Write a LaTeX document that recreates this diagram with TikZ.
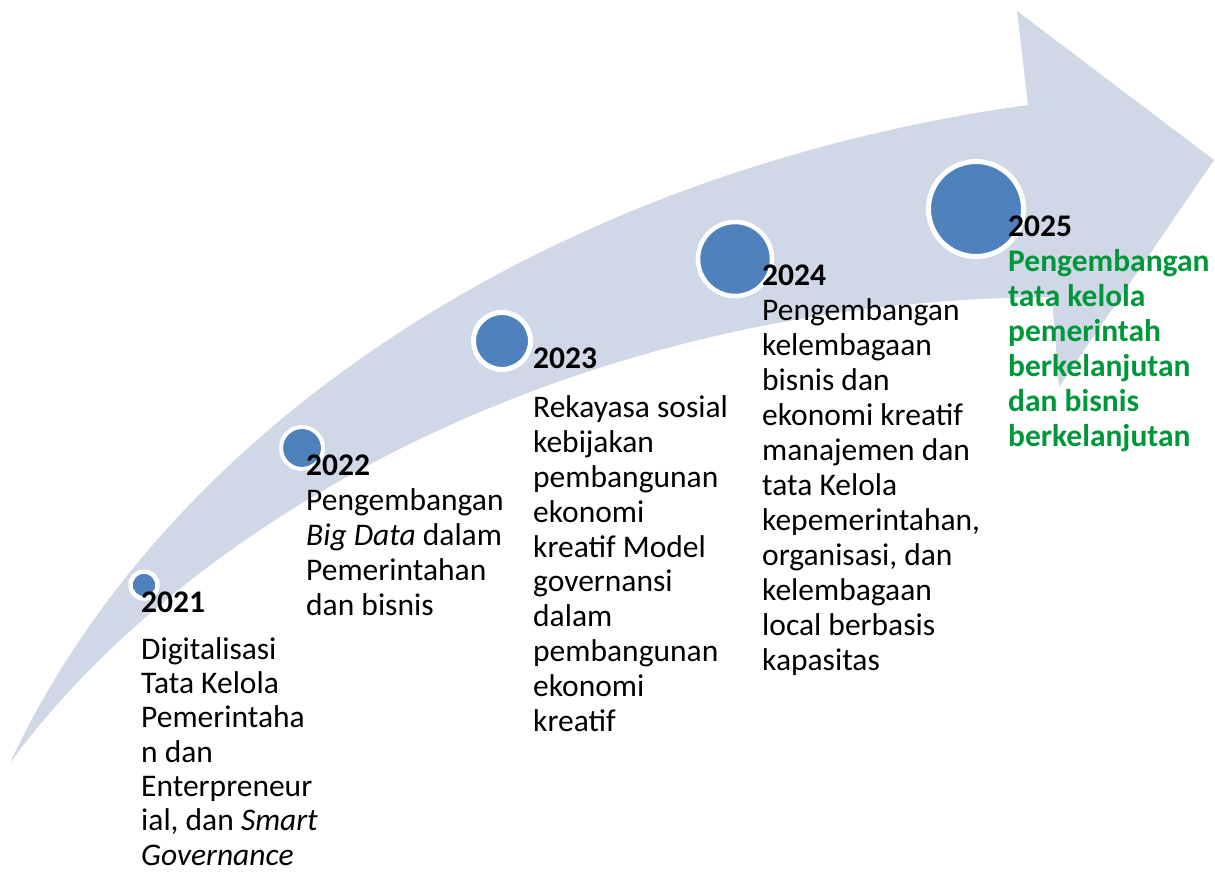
\documentclass[tikz,border=0pt]{standalone}
\usepackage{fontspec}
\setmainfont{Carlito}
\definecolor{arrowfill}{HTML}{D0D8E8}
\definecolor{dotblue}{HTML}{4F81BD}
\definecolor{txtgreen}{HTML}{00973A}
\definecolor{sqred}{HTML}{F3A0A0}
\newcommand\tlines[1]{\vtop{\halign{##\hfil\cr#1\crcr}}}
\newcommand\fnreg{\fontsize{31.5}{35}\selectfont}
\newcommand\fnbold{\fontsize{31.5}{35}\selectfont\bfseries}
\newlength\ulpre \newlength\ulwd
\newcommand\ulmark[5]{\settowidth\ulpre{#1#4}\settowidth\ulwd{#1#5}%
  \draw[sqline] ([xshift=\ulpre,yshift=-3.5pt]#2,#3) -- ++(\ulwd,0pt);}
\tikzset{
  txt/.style={anchor=base west, inner sep=0pt, font=\fnreg},
  dot/.style={circle, fill=dotblue, draw=white, inner sep=0pt},
  sqline/.style={draw=sqred, line width=0.9pt}
}
\begin{document}
\begin{tikzpicture}[x=1pt,y=-1pt]
\useasboundingbox (0,0) rectangle (1215,874);
% curved arrow
\fill[arrowfill] (10,763) .. controls (170,420) and (560,170) .. (1028,105)
  -- (1017,11) -- (1214,160) -- (1059,387) -- (1052,297)
  .. controls (560,300) and (180,530) .. (10,763) -- cycle;
% dots
\node[dot, minimum size=27pt, line width=4.5pt] (d2021) at (144,585) {};
\node[dot, minimum size=42pt, line width=4pt] (d2022) at (302,448) {};
\node[dot, minimum size=57pt, line width=5pt] (d2023) at (502,341) {};
\node[dot, minimum size=74pt, line width=4.5pt] (d2024) at (735,259) {};
\node[dot, minimum size=95pt, line width=5pt] (d2025) at (976,209) {};
% spell-check underlines (2024)
\ulmark{\fnreg}{762}{321}{}{Pengembangan}
\ulmark{\fnreg}{762}{426}{}{ekonomi}
\ulmark{\fnreg}{762}{426}{ekonomi }{kreatif}
\ulmark{\fnreg}{762}{461}{}{manajemen}
\ulmark{\fnreg}{762}{531}{}{kepemerintahan,}
\ulmark{\fnreg}{762}{566}{}{organisasi}
\ulmark{\fnreg}{762}{601}{}{kelembagaan}
\ulmark{\fnreg}{762}{636}{local }{berbasis}
\ulmark{\fnreg}{762}{671}{}{kapasitas}
% spell-check underlines (2025)
\ulmark{\fnbold}{1008}{272}{}{Pengembangan}
\ulmark{\fnbold}{1008}{307}{tata }{kelola}
\ulmark{\fnbold}{1008}{342}{}{pemerintah}
\ulmark{\fnbold}{1008}{377}{}{berkelanjutan}
\ulmark{\fnbold}{1008}{412}{dan }{bisnis}
\ulmark{\fnbold}{1008}{447}{}{berkelanjutan}
% texts
\node[txt, font=\fontsize{31.5}{34.3}\selectfont] (t2021) at (141,612) {\tlines{\textbf{2021}\cr\noalign{\vskip13pt}
Digitalisasi\cr Tata Kelola\cr Pemerintaha\cr n dan\cr Enterpreneur\cr
ial, dan \textit{Smart}\cr \textit{Governance}}};
\node[txt] (t2022) at (306,475) {\tlines{\textbf{2022}\cr
Pengembangan\cr \textit{Big Data} dalam\cr Pemerintahan\cr dan bisnis}};
\node[txt, font=\fontsize{31.5}{34.8}\selectfont] (t2023) at (533,368) {\tlines{\textbf{2023}\cr\noalign{\vskip15pt}
Rekayasa sosial\cr kebijakan\cr pembangunan\cr ekonomi\cr kreatif Model\cr
governansi\cr dalam\cr pembangunan\cr ekonomi\cr kreatif}};
\node[txt] (t2024) at (762,286) {\tlines{\textbf{2024}\cr
Pengembangan\cr kelembagaan\cr bisnis dan\cr ekonomi kreatif\cr
manajemen dan\cr tata Kelola\cr kepemerintahan,\cr organisasi, dan\cr
kelembagaan\cr local berbasis\cr kapasitas}};
\node[txt, text=txtgreen, font=\fnbold] (t2025) at (1008,237) {\tlines{{\color{black}2025}\cr
Pengembangan\cr tata kelola\cr pemerintah\cr berkelanjutan\cr dan bisnis\cr berkelanjutan}};
\end{tikzpicture}
\end{document}
